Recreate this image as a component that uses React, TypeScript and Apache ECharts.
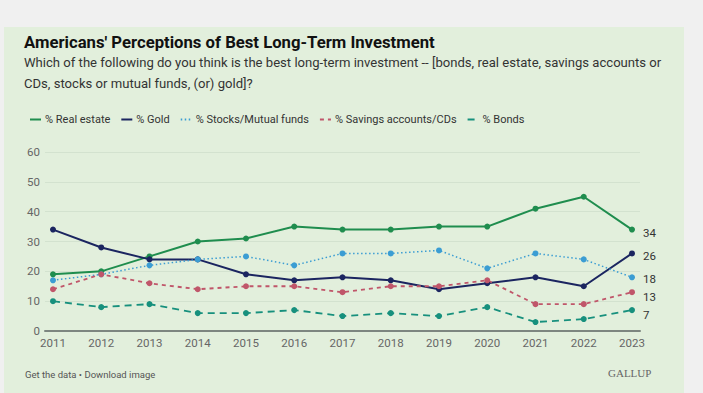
import React, { useEffect, useRef } from "react";
import * as echarts from "echarts";

const years = [2011, 2012, 2013, 2014, 2015, 2016, 2017, 2018, 2019, 2020, 2021, 2022, 2023];
const realEstate = [19, 20, 25, 30, 31, 35, 34, 34, 35, 35, 41, 45, 34];
const gold = [34, 28, 24, 24, 19, 17, 18, 17, 14, 16, 18, 15, 26];
const stocks = [17, 19, 22, 24, 25, 22, 26, 26, 27, 21, 26, 24, 18];
const savings = [14, 19, 16, 14, 15, 15, 13, 15, 15, 17, 9, 9, 13];
const bonds = [10, 8, 9, 6, 6, 7, 5, 6, 5, 8, 3, 4, 7];
const seriesNames = ["% Real estate", "% Gold", "% Stocks/Mutual funds", "% Savings accounts/CDs", "% Bonds"];
const yTicks = [0, 10, 20, 30, 40, 50, 60];

export default function App() {
  const ref = useRef<HTMLDivElement>(null);
  useEffect(() => {
    document.body.style.margin = "0";
    const chart = echarts.init(ref.current!, null, { renderer: "svg" });
    const mk = (
      name: string,
      vals: number[],
      color: string,
      type: any,
      width: number,
      labelOffset: number
    ) => ({
      name,
      type: "line",
      data: vals.map((v, i) =>
        i === vals.length - 1
          ? {
              value: [years[i], v],
              label: {
                show: true,
                position: "right",
                distance: 8,
                offset: [0, labelOffset],
                formatter: String(v),
                color: "#333",
                fontSize: 11.5,
                fontFamily: "Roboto",
              },
            }
          : { value: [years[i], v] }
      ),
      symbol: "circle",
      symbolSize: 6,
      itemStyle: { color },
      lineStyle: { color, width, type },
      z: 3,
    });
    chart.setOption({
      animation: false,
      backgroundColor: "#f0f0f0",
      graphic: [
        { type: "rect", shape: { x: 4, y: 27, width: 680, height: 370 }, style: { fill: "#e2efdc" }, z: -10 },
        {
          type: "text",
          left: 24,
          top: 34,
          style: { text: "Americans' Perceptions of Best Long-Term Investment", fontSize: 16.7, fontWeight: "bold", fill: "#111", fontFamily: "Roboto" },
        },
        {
          type: "text",
          left: 24,
          top: 52,
          style: {
            text: "Which of the following do you think is the best long-term investment -- [bonds, real estate, savings accounts or\nCDs, stocks or mutual funds, (or) gold]?",
            fontSize: 13.1,
            lineHeight: 21,
            fill: "#333",
            fontFamily: "Roboto",
          },
        },
        { type: "text", left: 25, top: 369, style: { text: "Get the data \u2022 Download image", fontSize: 9.5, fill: "#555", fontFamily: "Roboto" } },
        { type: "text", left: 608, top: 367, style: { text: "GALLUP", fontSize: 11, fill: "#666", fontFamily: "Liberation Serif" } },
      ],
      legend: {
        left: 24,
        top: 109,
        itemWidth: 11,
        itemHeight: 2,
        itemGap: 10,
        textStyle: { fontSize: 11, color: "#333", fontFamily: "Roboto", padding: [0, 0, 0, -1] },
        itemStyle: { opacity: 0 },
        data: seriesNames,
      },
      grid: { left: 45, right: 63, top: 152, bottom: 62, containLabel: false },
      xAxis: {
        type: "value",
        min: 2011 - 8 / 48.25,
        max: 2023 + 8 / 48.25,
        splitLine: { show: false },
        axisTick: { show: false },
        axisLine: { show: true, onZero: false, lineStyle: { color: "#7d8680", width: 2 } },
        axisLabel: { customValues: years, color: "#666", fontSize: 11.5, margin: 6, fontFamily: "Roboto", formatter: (v: number) => String(v) },
      },
      yAxis: {
        type: "value",
        min: 0,
        max: 60,
        interval: 10,
        axisLine: { show: false },
        axisTick: { show: false },
        splitLine: { lineStyle: { color: "#d3e2cf", width: 1 } },
        axisLabel: { color: "#666", fontSize: 11.5, margin: 5, fontFamily: "Roboto", customValues: yTicks },
      },
      series: [
        mk(seriesNames[0], realEstate, "#1f8d4e", "solid", 2, 3),
        mk(seriesNames[1], gold, "#1b2560", "solid", 2, 3),
        mk(seriesNames[2], stocks, "#3b9dd3", [1.5, 2.5], 1.5, 2),
        mk(seriesNames[3], savings, "#c0566a", [4, 4], 1.8, 5),
        mk(seriesNames[4], bonds, "#17907d", [7, 5], 1.8, 5),
      ],
    });
    return () => chart.dispose();
  }, []);
  return <div ref={ref} style={{ width: 703, height: 393 }} />;
}
